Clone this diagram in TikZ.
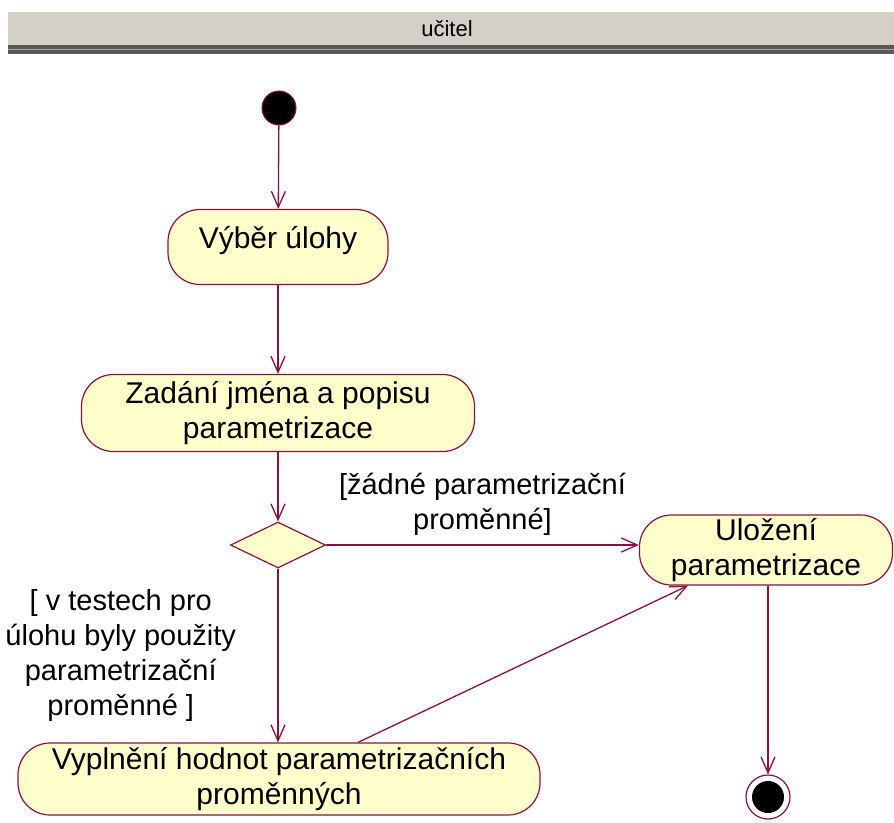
\documentclass[tikz,border=0pt]{standalone}
\usepackage{fontspec}
\setmainfont{Liberation Sans}
\usetikzlibrary{arrows.meta, shapes.geometric}

\definecolor{umlline}{RGB}{140,16,64}
\definecolor{umlfill}{RGB}{255,255,204}
\definecolor{lanegray}{RGB}{212,208,200}

\tikzset{
  bigtext/.style={font=\fontsize{30pt}{35pt}\selectfont},
  action/.style={bigtext, draw=umlline, fill=umlfill, line width=1.2pt, rounded corners=32pt, align=center, inner sep=0pt},
  decision/.style={diamond, draw=umlline, fill=umlfill, line width=1.2pt, minimum width=95pt, minimum height=46pt, inner sep=0pt},
  startnode/.style={circle, draw=umlline, fill=black, line width=1pt, minimum size=34pt, inner sep=0pt},
  endnode/.style={circle, draw=umlline, fill=white, line width=1.2pt, minimum size=44pt, inner sep=0pt,
    path picture={\fill[black] (path picture bounding box.center) circle (16pt);}},
  flow/.style={draw=umlline, line width=1.3pt, -{Straight Barb[length=16pt,width=14pt]}},
  guard/.style={font=\fontsize{29pt}{35pt}\selectfont, align=center},
}

\begin{document}
\begin{tikzpicture}[x=1pt, y=-1pt]
  \useasboundingbox (0,0) rectangle (894,822);

  % swimlane header
  \fill[lanegray] (8,12) rectangle (894,45);
  \fill[black!65] (8,45) rectangle (894,54);
  \draw[black!35, line width=1pt] (8,49.5) -- (894,49.5);
  \node[font=\fontsize{22pt}{26pt}\selectfont] (lane) at (447,29) {učitel};

  % states
  \node[startnode] (start) at (279,108) {};
  \node[action, minimum width=220pt, minimum height=75pt, text depth=20pt] (vyber) at (278,247) {Výběr úlohy};
  \node[action, minimum width=393pt, minimum height=77pt] (zadani) at (278,413) {Zadání jména a popisu\\parametrizace};
  \node[decision] (dec) at (278,545) {};
  \node[action, minimum width=253pt, minimum height=70pt] (ulozeni) at (766,550) {Uložení\\parametrizace};
  \node[action, minimum width=522pt, minimum height=72pt] (vyplneni) at (279,779) {Vyplnění hodnot parametrizačních\\proměnných};
  \node[endnode] (end) at (768,797) {};

  % transitions
  \draw[flow] (start) -- (vyber);
  \draw[flow] (vyber) -- (zadani);
  \draw[flow] (zadani) -- (dec);
  \draw[flow] (dec.east) -- (dec.east -| ulozeni.west)
    node[guard, midway, above=6pt] {[žádné parametrizační\\proměnné]};
  \draw[flow] (dec.south) -- (dec.south |- vyplneni.north)
    node[guard, midway, left=38pt] {[ v testech pro\\úlohu byly použity\\parametrizační\\proměnné ]};
  \draw[flow] ([xshift=79pt]vyplneni.north) -- ([xshift=-78pt]ulozeni.south);
  \draw[flow] (ulozeni.south -| end) -- (end.north);
\end{tikzpicture}
\end{document}
